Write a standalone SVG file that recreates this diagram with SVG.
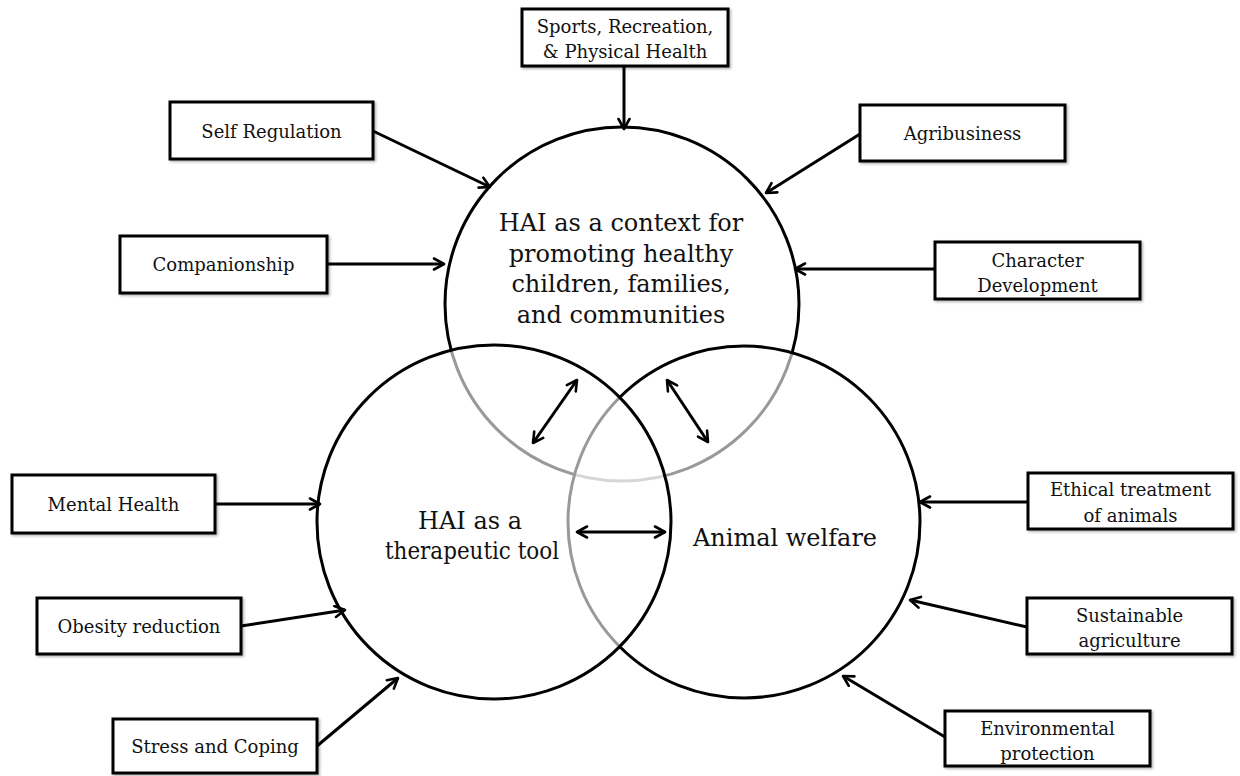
<svg xmlns="http://www.w3.org/2000/svg" width="1240" height="776" viewBox="0 0 1240 776">
<style>
.box{fill:#fff;stroke:#000;stroke-width:3;filter:url(#sh)}
.t{font-family:"DejaVu Serif","Liberation Serif",serif;font-size:18px;fill:#111;text-anchor:middle}
.big{font-family:"DejaVu Serif","Liberation Serif",serif;font-size:24px;fill:#111;text-anchor:middle}
.circ{fill:#fff;fill-opacity:0.6;stroke:#000;stroke-width:3}
.con{fill:none;stroke:#000;stroke-width:3;marker-end:url(#ah)}
.dbl{marker-start:url(#ah)}
</style>
<defs>
<filter id="sh" x="-5%" y="-10%" width="115%" height="130%">
<feDropShadow dx="1.5" dy="1.5" stdDeviation="1.2" flood-color="#000" flood-opacity="0.3"/>
</filter>
<marker id="ah" viewBox="0 0 14 14" refX="12" refY="7" markerWidth="14" markerHeight="14" markerUnits="userSpaceOnUse" orient="auto-start-reverse">
<path d="M2,1.5 L12,7 L2,12.5" fill="none" stroke="#000" stroke-width="2.6" stroke-linecap="round" stroke-linejoin="round"/>
</marker>
</defs>
<rect width="1240" height="776" fill="#fff"/>

<g id="circles">
<g id="circle-top"><circle class="circ" cx="622" cy="304" r="177"/></g>
<g id="circle-right"><circle class="circ" cx="744" cy="522" r="176"/></g>
<g id="circle-left"><circle class="circ" cx="494" cy="522" r="177"/></g>
</g>

<g id="circle-labels">
<g id="label-top">
<text class="big" x="621" y="231">HAI as a context for</text>
<text class="big" x="621" y="261.5">promoting healthy</text>
<text class="big" x="621" y="292">children, families,</text>
<text class="big" x="621" y="322.5">and communities</text>
</g>
<g id="label-left">
<text class="big" x="470" y="529">HAI as a</text>
<text class="big" x="472" y="559" textLength="174" lengthAdjust="spacingAndGlyphs">therapeutic tool</text>
</g>
<g id="label-right">
<text class="big" x="785" y="546">Animal welfare</text>
</g>
</g>

<g id="connectors">
<path class="con" d="M624,66 L624,129"/>
<path class="con" d="M373,131 L490,187"/>
<path class="con" d="M860,134 L766,193"/>
<path class="con" d="M327,264 L444,264"/>
<path class="con" d="M935,269 L795,269"/>
<path class="con" d="M215,504 L320,504"/>
<path class="con" d="M241,626 L345,610"/>
<path class="con" d="M317,746 L398,678"/>
<path class="con" d="M1028,502 L920,502"/>
<path class="con" d="M1027,627 L910,600"/>
<path class="con" d="M945,737 L843,676"/>
<path class="con dbl" d="M577,380 L533,443"/>
<path class="con dbl" d="M667,380 L708,442"/>
<path class="con dbl" d="M577,532 L665,532"/>
</g>

<g id="n-sports"><rect class="box" x="522" y="9" width="206" height="57"/>
<text class="t" x="625" y="33">Sports, Recreation,</text>
<text class="t" x="625" y="58">&amp; Physical Health</text></g>

<g id="n-selfreg"><rect class="box" x="170" y="102" width="203" height="57"/>
<text class="t" x="271.5" y="138">Self Regulation</text></g>

<g id="n-agri"><rect class="box" x="860" y="105" width="205" height="56"/>
<text class="t" x="962.5" y="140">Agribusiness</text></g>

<g id="n-companion"><rect class="box" x="120" y="236" width="207" height="57"/>
<text class="t" x="223.5" y="271">Companionship</text></g>

<g id="n-character"><rect class="box" x="935" y="242" width="205" height="57"/>
<text class="t" x="1037.5" y="267">Character</text>
<text class="t" x="1037.5" y="292">Development</text></g>

<g id="n-mental"><rect class="box" x="12" y="475" width="203" height="58"/>
<text class="t" x="113.5" y="511">Mental Health</text></g>

<g id="n-obesity"><rect class="box" x="37" y="598" width="204" height="56"/>
<text class="t" x="139" y="633">Obesity reduction</text></g>

<g id="n-stress"><rect class="box" x="113" y="719" width="204" height="54"/>
<text class="t" x="215" y="753">Stress and Coping</text></g>

<g id="n-ethical"><rect class="box" x="1028" y="473" width="205" height="56"/>
<text class="t" x="1130.5" y="496">Ethical treatment</text>
<text class="t" x="1130.5" y="522">of animals</text></g>

<g id="n-sustainable"><rect class="box" x="1027" y="598" width="205" height="56"/>
<text class="t" x="1129.5" y="622">Sustainable</text>
<text class="t" x="1129.5" y="647">agriculture</text></g>

<g id="n-environmental"><rect class="box" x="945" y="711" width="205" height="55"/>
<text class="t" x="1047.5" y="735">Environmental</text>
<text class="t" x="1047.5" y="760">protection</text></g>
</svg>
